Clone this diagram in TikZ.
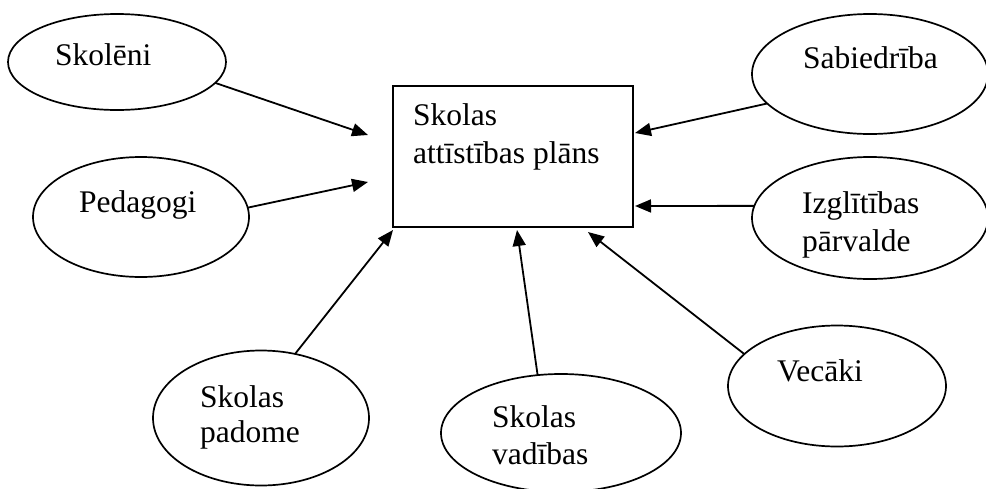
\documentclass[tikz,border=0pt]{standalone}
\usepackage{fontspec}
\setmainfont{Liberation Serif}
\usetikzlibrary{shapes.geometric,arrows.meta}
\begin{document}
\begin{tikzpicture}[x=1pt,y=-1pt,
  oval/.style={draw,ellipse,line width=1.7pt,inner sep=0pt,outer sep=0pt},
  lbl/.style={anchor=base west,inner sep=0pt,font=\fontsize{31.5}{36}\selectfont},
  arr/.style={line width=1.8pt,-{Triangle[length=16pt,width=13pt]}}]
\useasboundingbox (0,0) rectangle (986,488);
% central box
\node[draw,line width=1.7pt,minimum width=240pt,minimum height=141pt,inner sep=0pt,outer sep=0pt] (plan) at (513,156.5) {};
\node[lbl] (planA) at (413,125) {Skolas};
\node[lbl] (planB) at (413,163) {attīstības plāns};
% ellipses
\node[oval,minimum width=218pt,minimum height=96pt] (sk) at (117,62) {};
\node[oval,minimum width=216pt,minimum height=120pt] (pe) at (141,217) {};
\node[oval,minimum width=236pt,minimum height=120pt] (sa) at (870,74) {};
\node[oval,minimum width=236pt,minimum height=122pt] (iz) at (870,218) {};
\node[oval,minimum width=218pt,minimum height=121pt] (ve) at (837,386) {};
\node[oval,minimum width=216pt,minimum height=135pt] (pa) at (261,418) {};
\node[oval,minimum width=240pt,minimum height=118pt] (va) at (561,433) {};
% labels
\node[lbl] (skT) at (55,65) {Skolēni};
\node[lbl] (peT) at (79,212) {Pedagogi};
\node[lbl] (saT) at (803,68) {Sabiedrība};
\node[lbl] (izT1) at (802,213) {Izglītības};
\node[lbl] (izT2) at (802,251) {pārvalde};
\node[lbl] (veT) at (777,381) {Vecāki};
\node[lbl] (paT1) at (200,407) {Skolas};
\node[lbl] (paT2) at (200,442) {padome};
\node[lbl] (vaT1) at (492,427) {Skolas};
\node[lbl] (vaT2) at (492,464) {vadības};
% arrow tips
\coordinate (t1) at (368,135);
\coordinate (t2) at (368,182);
\coordinate (t3) at (393,230);
\coordinate (t4) at (517,230);
\coordinate (t5) at (588,232);
\coordinate (t6) at (635,206);
\coordinate (t7) at (635,133);
% connectors
\draw[arr] (sk.-12.5) -- (t1);
\draw[arr] (pe.5.8) -- (t2);
\draw[arr] (pa.62) -- (t3);
\draw[arr] (va.112.5) -- (t4);
\draw[arr] (ve.161.6) -- (t5);
\draw[arr] (iz.174.2) -- (t6);
\draw[arr] (sa.196.7) -- (t7);
\end{tikzpicture}
\end{document}
